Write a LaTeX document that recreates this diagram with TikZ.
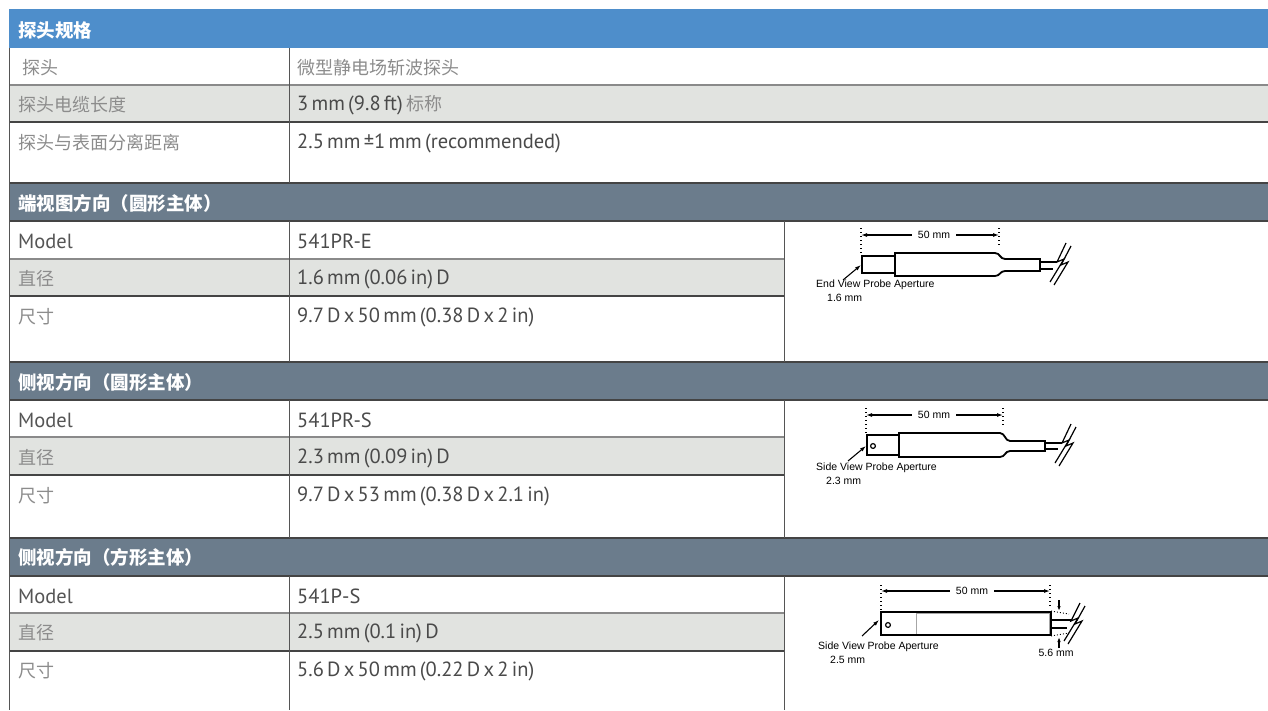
\documentclass[tikz,border=0pt]{standalone}
\usepackage{fontspec}
\setmainfont{PT Sans}[WordSpace=0.6]
\newfontfamily\cjk{Noto Sans CJK SC}
\newfontfamily\smallf{Liberation Sans}
\usetikzlibrary{arrows.meta}
\definecolor{hblue}{HTML}{4E8ECB}
\definecolor{hslate}{HTML}{6B7C8C}
\definecolor{rowgray}{HTML}{E1E3E0}
\definecolor{labgray}{HTML}{8C8C8C}
\definecolor{valgray}{HTML}{4A4A4A}
\definecolor{modgray}{HTML}{555555}
\definecolor{lined}{HTML}{444444}
\definecolor{linel}{HTML}{8A8A8A}
\tikzset{
  lab/.style={anchor=west, text=labgray, font=\cjk\fontsize{18}{20}\selectfont, inner sep=0pt},
  modl/.style={anchor=west, text=modgray, font=\fontsize{20.5}{22}\selectfont, inner sep=0pt},
  val/.style={anchor=west, text=valgray, font=\fontsize{20.5}{22}\selectfont, inner sep=0pt},
  hdr/.style={anchor=west, text=white, font=\cjk\bfseries\fontsize{18.5}{20}\selectfont, inner sep=0pt},
  small/.style={font=\smallf\fontsize{10.5}{11}\selectfont, inner sep=0pt, text=black},
  dline/.style={draw=lined, line width=1.2pt},
  lline/.style={draw=linel, line width=1.2pt},
  vline/.style={draw=modgray, line width=1pt},
  probe/.style={draw=black, line width=1.8pt},
  thin/.style={draw=black, line width=1.2pt},
  dots/.style={draw=black, line width=1.4pt, dash pattern=on 1.2pt off 2.8pt},
  dimarrow/.style={draw=black, line width=1.1pt, -{Latex[length=6pt,width=4pt]}},
}
\begin{document}
\begin{tikzpicture}[x=1pt,y=-1pt]
\useasboundingbox (0,0) rectangle (1268,710);
% ---------- fills ----------
\fill[hblue] (9,9) rectangle (1268,48);
\fill[rowgray] (9,85) rectangle (1268,122);
\fill[hslate] (9,183) rectangle (1268,221);
\fill[rowgray] (9,259) rectangle (784,296);
\fill[hslate] (9,362) rectangle (1268,400);
\fill[rowgray] (9,437) rectangle (784,475);
\fill[hslate] (9,538) rectangle (1268,576);
\fill[rowgray] (9,613) rectangle (784,651);
% ---------- horizontal lines ----------
\draw[lline] (9,85) -- (1268,85);
\draw[dline] (9,122) -- (1268,122);
\foreach \y in {183,221,362,400,538,576} \draw[dline] (9,\y) -- (1268,\y);
\foreach \y in {259,437,613} \draw[lline] (9,\y) -- (784,\y);
\foreach \y in {296,475,651} \draw[dline] (9,\y) -- (784,\y);
% ---------- vertical lines ----------
\draw[vline] (9,48) -- (9,710);
\draw[vline] (289,48) -- (289,183);
\foreach \a/\b in {221/362,400/538,576/710} {
  \draw[vline] (289,\a) -- (289,\b);
  \draw[vline] (784,\a) -- (784,\b);
}
% ---------- text: section 1 ----------
\node[hdr] (h1) at (18,30) {探头规格};
\node[lab] (l11) at (22,68) {探头};
\node[lab] (v11) at (297,68) {微型静电场斩波探头};
\node[lab] (l12) at (18,105) {探头电缆长度};
\node[val] (v12) at (297,105) {3 mm (9.8 ft) {\cjk\fontsize{18}{20}\selectfont\color{labgray}标称}};
\node[lab] (l13) at (18,143) {探头与表面分离距离};
\node[val] (v13) at (297,143) {2.5 mm ±1 mm (recommended)};
% ---------- section 2 ----------
\node[hdr] (h2) at (18,203) {端视图方向（圆形主体）};
\node[modl] (l21) at (18,241) {Model};
\node[val] (v21) at (297,241) {541PR-E};
\node[lab] (l22) at (18,279) {直径};
\node[val] (v22) at (297,279) {1.6 mm (0.06 in) D};
\node[lab] (l23) at (18,317) {尺寸};
\node[val] (v23) at (297,317) {9.7 D x 50 mm (0.38 D x 2 in)};
% ---------- section 3 ----------
\node[hdr] (h3) at (18,382) {侧视方向（圆形主体）};
\node[modl] (l31) at (18,420) {Model};
\node[val] (v31) at (297,420) {541PR-S};
\node[lab] (l32) at (18,458) {直径};
\node[val] (v32) at (297,458) {2.3 mm (0.09 in) D};
\node[lab] (l33) at (18,496) {尺寸};
\node[val] (v33) at (297,496) {9.7 D x 53 mm (0.38 D x 2.1 in)};
% ---------- section 4 ----------
\node[hdr] (h4) at (18,557) {侧视方向（方形主体）};
\node[modl] (l41) at (18,596) {Model};
\node[val] (v41) at (297,596) {541P-S};
\node[lab] (l42) at (18,633) {直径};
\node[val] (v42) at (297,633) {2.5 mm (0.1 in) D};
\node[lab] (l43) at (18,671) {尺寸};
\node[val] (v43) at (297,671) {5.6 D x 50 mm (0.22 D x 2 in)};

% ================= probe 1 (end view) =================
\draw[dots] (861,228) -- (861,254);
\draw[dots] (999,228) -- (999,246);
\node[small] (d1) at (934,235) {50 mm};
\coordinate (d1l) at (861,235); \coordinate (d1r) at (999,235);
\draw[dimarrow] (d1.west) ++(-6,0) -- (d1l);
\draw[dimarrow] (d1.east) ++(6,0) -- (d1r);
\draw[probe] (862,256) rectangle (895,273);
\draw[probe] (895,253) -- (995,253) .. controls (1000,253) and (1000,259) .. (1005,259) -- (1040,259)
  -- (1040,271) -- (1005,271) .. controls (1000,271) and (1000,276) .. (995,276) -- (895,276) -- cycle;
\draw[thin] (1040,262) -- (1057,262) (1040,269) -- (1053,269);
\draw[thin] (1066,243) -- (1057,262) -- (1064,259) -- (1050,282);
\draw[thin] (1071,246) -- (1061,265) -- (1068,262) -- (1054,285);
\node[small, anchor=west] (t1a) at (816,285) {End View Probe Aperture};
\node[small, anchor=west] (t1b) at (827,298) {1.6 mm};
\coordinate (a1) at (861,265);
\draw[dimarrow] (843,280) -- (a1);

% ================= probe 2 (side view, round) =================
\draw[dots] (866,408) -- (866,435);
\draw[dots] (1003,408) -- (1003,426);
\node[small] (d2) at (934,415) {50 mm};
\coordinate (d2l) at (866,415); \coordinate (d2r) at (1003,415);
\draw[dimarrow] (d2.west) ++(-6,0) -- (d2l);
\draw[dimarrow] (d2.east) ++(6,0) -- (d2r);
\draw[probe] (867,435) rectangle (899,455);
\draw[thin] (873,446) circle (2.4);
\draw[probe] (899,433) -- (1000,433) .. controls (1005,433) and (1005,441) .. (1010,441) -- (1045,441)
  -- (1045,451) -- (1010,451) .. controls (1005,451) and (1005,457) .. (1000,457) -- (899,457) -- cycle;
\draw[thin] (1045,443) -- (1062,443) (1045,449) -- (1058,449);
\draw[thin] (1071,424) -- (1062,443) -- (1069,440) -- (1055,463);
\draw[thin] (1076,427) -- (1066,446) -- (1073,443) -- (1059,466);
\node[small, anchor=west] (t2a) at (816,468) {Side View Probe Aperture};
\node[small, anchor=west] (t2b) at (826,481) {2.3 mm};
\coordinate (a2) at (866,446);
\draw[dimarrow] (848,461) -- (a2);

% ================= probe 3 (side view, square) =================
\draw[dots] (881,585) -- (881,612);
\draw[dots] (1050,585) -- (1050,606);
\node[small] (d3) at (972,591) {50 mm};
\coordinate (d3l) at (881,591); \coordinate (d3r) at (1050,591);
\draw[dimarrow] (d3.west) ++(-6,0) -- (d3l);
\draw[dimarrow] (d3.east) ++(6,0) -- (d3r);
\draw[draw=gray!70, line width=0.9pt] (916,613) rectangle (1049,634);
\draw[probe, line width=1.4pt] (881,612) rectangle (1051,635);
\draw[thin] (888,625) circle (2.4);
\draw[thin] (1051,620) -- (1071,620) (1051,628) -- (1067,628);
\draw[thin] (1080,603) -- (1071,621) -- (1078,618) -- (1064,641);
\draw[thin] (1085,606) -- (1075,624) -- (1082,621) -- (1068,644);
\draw[dots, line width=0.9pt, dash pattern=on 1pt off 2pt] (1051,611) -- (1069,614);
\draw[dots, line width=0.9pt, dash pattern=on 1pt off 2pt] (1051,636) -- (1069,633);
\coordinate (p3t) at (1059,611); \coordinate (p3b) at (1059,637);
\draw[dimarrow, -{Latex[length=5pt,width=3.5pt]}] (1059,600) -- (p3t);
\draw[dimarrow, -{Latex[length=5pt,width=3.5pt]}] (1059,648) -- (p3b);
\node[small] (t3c) at (1056,653) {5.6 mm};
\node[small, anchor=west] (t3a) at (818,647) {Side View Probe Aperture};
\node[small, anchor=west] (t3b) at (830,660) {2.5 mm};
\coordinate (a3) at (879,620);
\draw[dimarrow] (862,636) -- (a3);
\end{tikzpicture}
\end{document}
